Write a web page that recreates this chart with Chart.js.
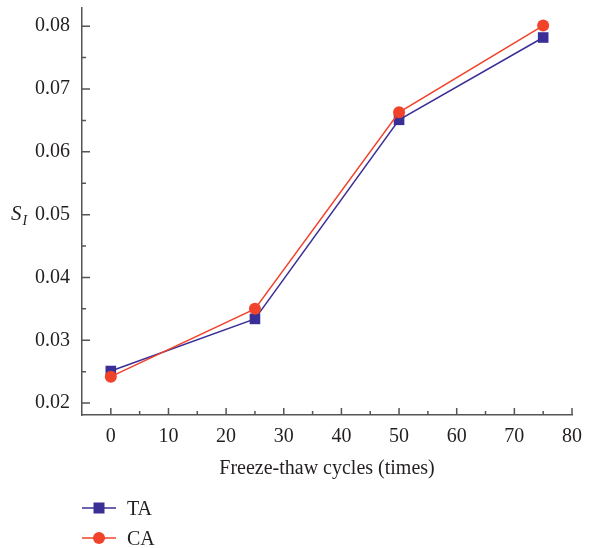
<!DOCTYPE html>
<html>
<head>
<meta charset="utf-8">
<script src="https://cdn.jsdelivr.net/npm/chart.js@4.4.1/dist/chart.umd.min.js"></script>
<style>
  html, body { margin: 0; padding: 0; background: #fff; }
  #wrap { position: relative; width: 590px; height: 548px; }
  #legend { position: absolute; left: 82px; top: 493px; font-family: "Liberation Serif", serif; font-size: 20px; color: #231f20; }
  .item { display: flex; align-items: center; height: 30px; }
  .item canvas { margin-right: 11px; }
</style>
</head>
<body>
<div id="wrap">
  <canvas id="c" width="590" height="548"></canvas>
  <div id="legend"></div>
</div>
<script>
// ---- data ----
const cycles = [0, 25, 50, 75];
const seriesNames = ["TA", "CA"];
const taValues = [0.0251, 0.0334, 0.0651, 0.0782];
const caValues = [0.0242, 0.0350, 0.0663, 0.0801];
const xTickValues = [0, 10, 20, 30, 40, 50, 60, 70, 80];
const xMinorValues = [5, 15, 25, 35, 45, 55, 65, 75];
const yTickValues = [0.02, 0.03, 0.04, 0.05, 0.06, 0.07, 0.08];
const yMinorValues = [0.025, 0.035, 0.045, 0.055, 0.065, 0.075];
const xAxisTitle = "Freeze-thaw cycles (times)";

const TA_COLOR = "#3a2f96";
const CA_COLOR = "#f0432a";
const AXIS_COLOR = "#555555";
const TEXT_COLOR = "#231f20";
const FONT = '"Liberation Serif", serif';

const tickPlugin = {
  id: "innerTicks",
  afterDraw(chart) {
    const ctx = chart.ctx;
    const xs = chart.scales.x, ys = chart.scales.y;
    const a = chart.chartArea;
    ctx.save();
    ctx.strokeStyle = AXIS_COLOR;
    ctx.lineWidth = 1.5;
    ctx.beginPath();
    yTickValues.forEach(v => { const p = ys.getPixelForValue(v); ctx.moveTo(a.left, p); ctx.lineTo(a.left + 8, p); });
    yMinorValues.forEach(v => { const p = ys.getPixelForValue(v); ctx.moveTo(a.left, p); ctx.lineTo(a.left + 4, p); });
    xTickValues.forEach(v => { const p = xs.getPixelForValue(v); ctx.moveTo(p, a.bottom); ctx.lineTo(p, a.bottom - 7); });
    xMinorValues.forEach(v => { const p = xs.getPixelForValue(v); ctx.moveTo(p, a.bottom); ctx.lineTo(p, a.bottom - 4); });
    ctx.stroke();
    // y-axis title S_I
    ctx.fillStyle = TEXT_COLOR;
    ctx.textBaseline = "alphabetic";
    ctx.textAlign = "left";
    const ty = (a.top + a.bottom) / 2 + 8;
    ctx.font = "italic 21px " + FONT;
    ctx.fillText("S", 11, ty);
    const w = ctx.measureText("S").width;
    ctx.font = "italic 14px " + FONT;
    ctx.fillText("I", 11 + w + 1, ty + 5);
    ctx.restore();
  }
};

new Chart(document.getElementById("c"), {
  type: "line",
  data: {
    datasets: [
      {
        label: seriesNames[0],
        data: cycles.map((x, i) => ({ x, y: taValues[i] })),
        borderColor: TA_COLOR, backgroundColor: TA_COLOR,
        borderWidth: 1.5, pointStyle: "rect", pointRadius: 7.5,
        pointBorderColor: TA_COLOR, pointBorderWidth: 0,
        order: 2, tension: 0
      },
      {
        label: seriesNames[1],
        data: cycles.map((x, i) => ({ x, y: caValues[i] })),
        borderColor: CA_COLOR, backgroundColor: CA_COLOR,
        borderWidth: 1.5, pointStyle: "circle", pointRadius: 6,
        pointBorderColor: CA_COLOR, pointBorderWidth: 0,
        order: 1, tension: 0
      }
    ]
  },
  options: {
    responsive: false,
    animation: false,
    events: [],
    layout: { padding: { left: 0, top: 8, right: 18, bottom: 67 } },
    plugins: { legend: { display: false }, tooltip: { enabled: false } },
    scales: {
      x: {
        type: "linear", min: -5, max: 80,
        afterBuildTicks: s => { s.ticks = xTickValues.map(v => ({ value: v })); },
        afterFit: s => { s.height = 66; s.paddingLeft = 0; s.paddingRight = 0; },
        grid: { display: false, drawTicks: false },
        border: { display: true, color: AXIS_COLOR, width: 1.5 },
        ticks: { color: TEXT_COLOR, font: { family: FONT, size: 20 }, padding: 10, maxRotation: 0, autoSkip: false },
        title: { display: true, text: xAxisTitle, color: TEXT_COLOR, font: { family: FONT, size: 20 }, padding: { top: 4, bottom: 0 } }
      },
      y: {
        type: "linear", min: 0.0181, max: 0.0829,
        afterBuildTicks: s => { s.ticks = yTickValues.map(v => ({ value: v })); },
        afterFit: s => { s.width = 82; s.paddingTop = 0; s.paddingBottom = 0; },
        grid: { display: false, drawTicks: false },
        border: { display: true, color: AXIS_COLOR, width: 1.5 },
        ticks: { color: TEXT_COLOR, font: { family: FONT, size: 20 }, padding: 12, autoSkip: false,
                 callback: v => v.toFixed(2) }
      }
    }
  },
  plugins: [tickPlugin]
});

// HTML legend
const legend = document.getElementById("legend");
[[seriesNames[0], TA_COLOR, "rect"], [seriesNames[1], CA_COLOR, "circle"]].forEach(([name, col, shape]) => {
  const item = document.createElement("div");
  item.className = "item";
  const cv = document.createElement("canvas");
  cv.width = 34; cv.height = 14;
  const g = cv.getContext("2d");
  g.strokeStyle = col; g.fillStyle = col; g.lineWidth = 1.5;
  g.beginPath(); g.moveTo(0, 7); g.lineTo(34, 7); g.stroke();
  if (shape === "rect") { g.fillRect(17 - 5.5, 7 - 5.5, 11, 11); }
  else { g.beginPath(); g.arc(17, 7, 6, 0, Math.PI * 2); g.fill(); }
  const sp = document.createElement("span");
  sp.textContent = name;
  item.appendChild(cv); item.appendChild(sp);
  legend.appendChild(item);
});
</script>
</body>
</html>
